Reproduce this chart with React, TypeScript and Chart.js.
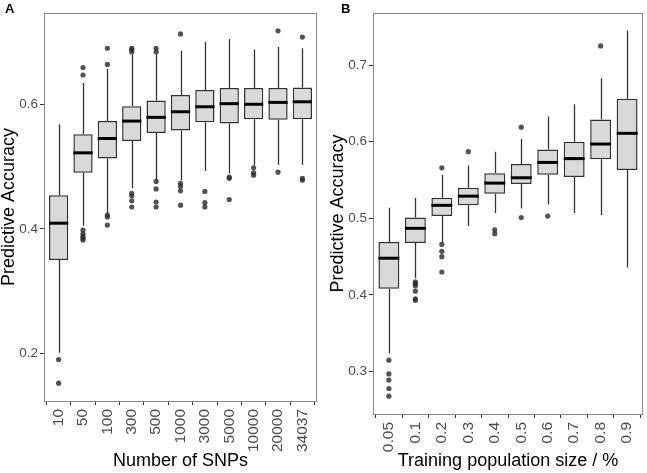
import React, { useEffect, useRef } from "react";
import { Chart, registerables } from "chart.js";
Chart.register(...registerables);

// ---------- Panel A: Number of SNPs ----------
const snpLabels = ["10", "50", "100", "300", "500", "1000", "3000", "5000", "10000", "20000", "34037"];
const snpQ1 = [0.35, 0.49, 0.513, 0.541, 0.554, 0.558, 0.571, 0.569, 0.576, 0.575, 0.576];
const snpMedian = [0.409, 0.522, 0.545, 0.573, 0.579, 0.588, 0.596, 0.601, 0.6, 0.603, 0.604];
const snpQ3 = [0.454, 0.552, 0.573, 0.597, 0.606, 0.615, 0.623, 0.626, 0.626, 0.626, 0.627];
const snpWhiskerLow = [0.201, 0.405, 0.425, 0.465, 0.478, 0.478, 0.493, 0.489, 0.502, 0.503, 0.503];
const snpWhiskerHigh = [0.568, 0.634, 0.657, 0.68, 0.68, 0.686, 0.7, 0.705, 0.688, 0.692, 0.69];
const snpOutlierCat = [
  0, 0,
  1, 1, 1, 1, 1, 1, 1,
  2, 2, 2, 2, 2,
  3, 3, 3, 3, 3, 3, 3,
  4, 4, 4, 4, 4, 4,
  5, 5, 5, 5, 5,
  6, 6, 6,
  7, 7, 7,
  8, 8, 8,
  9, 9,
  10, 10, 10,
];
const snpOutlierVal = [
  0.19, 0.152,
  0.659, 0.647, 0.398, 0.392, 0.388, 0.385, 0.382,
  0.69, 0.664, 0.422, 0.419, 0.406,
  0.684, 0.688, 0.69, 0.457, 0.453, 0.445, 0.435,
  0.684, 0.69, 0.476, 0.464, 0.443, 0.435,
  0.713, 0.473, 0.468, 0.461, 0.438,
  0.46, 0.442, 0.435,
  0.483, 0.481, 0.447,
  0.498, 0.49, 0.486,
  0.718, 0.491,
  0.708, 0.481, 0.478,
];
const snpYTicks = [0.2, 0.4, 0.6];

// ---------- Panel B: Training population size ----------
const popLabels = ["0.05", "0.1", "0.2", "0.3", "0.4", "0.5", "0.6", "0.7", "0.8", "0.9"];
const popQ1 = [0.408, 0.468, 0.503, 0.517, 0.532, 0.545, 0.557, 0.554, 0.577, 0.563];
const popMedian = [0.448, 0.487, 0.517, 0.529, 0.546, 0.553, 0.573, 0.578, 0.597, 0.611];
const popQ3 = [0.469, 0.501, 0.527, 0.54, 0.559, 0.571, 0.59, 0.6, 0.629, 0.656];
const popWhiskerLow = [0.324, 0.422, 0.468, 0.49, 0.507, 0.513, 0.518, 0.507, 0.504, 0.436];
const popWhiskerHigh = [0.514, 0.527, 0.557, 0.569, 0.587, 0.604, 0.633, 0.649, 0.683, 0.745];
const popOutlierCat = [
  0, 0, 0, 0, 0,
  1, 1, 1, 1, 1, 1,
  2, 2, 2, 2, 2,
  3,
  4, 4,
  5, 5,
  6,
  8,
];
const popOutlierVal = [
  0.315, 0.297, 0.289, 0.278, 0.268,
  0.417, 0.415, 0.412, 0.405, 0.395, 0.393,
  0.566, 0.466, 0.457, 0.45, 0.43,
  0.587,
  0.485, 0.48,
  0.619, 0.501,
  0.503,
  0.725,
];
const popYTicks = [0.3, 0.4, 0.5, 0.6, 0.7];

const FONT = "'Liberation Sans', Arial, Helvetica, sans-serif";

const boxExtras = {
  id: "boxExtras",
  beforeDatasetsDraw(chart: any) {
    const o = chart.options.plugins.boxExtras;
    if (!o) return;
    const { ctx } = chart;
    const xs = chart.scales.x;
    const ys = chart.scales.y;
    ctx.save();
    ctx.strokeStyle = "#333333";
    ctx.lineWidth = 1.3;
    for (let i = 0; i < o.low.length; i++) {
      const x = Math.round(xs.getPixelForValue(i)) + 0.5;
      ctx.beginPath();
      ctx.moveTo(x, ys.getPixelForValue(o.low[i]));
      ctx.lineTo(x, ys.getPixelForValue(o.q1[i]));
      ctx.moveTo(x, ys.getPixelForValue(o.q3[i]));
      ctx.lineTo(x, ys.getPixelForValue(o.high[i]));
      ctx.stroke();
    }
    ctx.restore();
  },
  afterDatasetsDraw(chart: any) {
    const o = chart.options.plugins.boxExtras;
    if (!o) return;
    const { ctx, chartArea } = chart;
    const ys = chart.scales.y;
    const meta = chart.getDatasetMeta(0);
    ctx.save();
    ctx.strokeStyle = "#000000";
    ctx.lineWidth = 3;
    for (let i = 0; i < o.median.length; i++) {
      const el = meta.data[i];
      const y = ys.getPixelForValue(o.median[i]);
      ctx.beginPath();
      ctx.moveTo(el.x - el.width / 2, y);
      ctx.lineTo(el.x + el.width / 2, y);
      ctx.stroke();
    }
    // panel border
    ctx.strokeStyle = "#8a8a8a";
    ctx.lineWidth = 1;
    ctx.strokeRect(
      Math.round(chartArea.left) + 0.5,
      Math.round(chartArea.top) + 0.5,
      Math.round(chartArea.right - chartArea.left) - 1,
      Math.round(chartArea.bottom - chartArea.top)
    );
    // panel letter
    ctx.fillStyle = "#000000";
    ctx.font = "bold 13px " + FONT;
    ctx.textAlign = "left";
    ctx.textBaseline = "alphabetic";
    ctx.fillText(o.letter, o.letterX, 13);
    ctx.restore();
  },
};

type PanelProps = {
  labels: string[];
  q1: number[];
  median: number[];
  q3: number[];
  low: number[];
  high: number[];
  outCat: number[];
  outVal: number[];
  yTicks: number[];
  yMin: number;
  yMax: number;
  xTitle: string;
  letter: string;
  letterX: number;
  width: number;
  padRight: number;
  yScaleWidth: number;
  xScaleHeight: number;
  yTitlePad: number;
};

function Panel(p: PanelProps) {
  const ref = useRef<HTMLCanvasElement>(null);
  useEffect(() => {
    if (!ref.current) return;
    const boxes = p.labels.map((_, i) => ({ x: i, y: [p.q1[i], p.q3[i]] }));
    const outliers = p.outCat.map((c, i) => ({ x: c, y: p.outVal[i] }));
    const chart = new Chart(ref.current, {
      type: "bar",
      data: {
        datasets: [
          {
            type: "bar",
            data: boxes as any,
            backgroundColor: "#d9d9d9",
            borderColor: "#333333",
            borderWidth: 1.5,
            borderSkipped: false,
            barPercentage: 0.79,
            categoryPercentage: 1,
          } as any,
          {
            type: "scatter",
            data: outliers as any,
            pointRadius: 2.6,
            pointBackgroundColor: "rgba(45,45,45,0.82)",
            pointBorderWidth: 0,
            showLine: false,
          } as any,
        ],
      },
      plugins: [boxExtras],
      options: {
        responsive: false,
        animation: false,
        events: [],
        layout: { padding: { left: 0, right: p.padRight, top: 13, bottom: 0 } },
        plugins: {
          legend: { display: false },
          tooltip: { enabled: false },
          boxExtras: {
            q1: p.q1,
            q3: p.q3,
            median: p.median,
            low: p.low,
            high: p.high,
            letter: p.letter,
            letterX: p.letterX,
          },
        } as any,
        scales: {
          x: {
            type: "linear",
            min: -0.6,
            max: p.labels.length - 1 + 0.6,
            offset: false,
            afterBuildTicks: (s: any) => {
              s.ticks = p.labels.map((_, i) => ({ value: i }));
            },
            afterFit: (s: any) => {
              s.height = p.xScaleHeight;
              s.paddingLeft = 0;
              s.paddingRight = 0;
            },
            ticks: {
              autoSkip: false,
              minRotation: 90,
              maxRotation: 90,
              padding: 4,
              color: "#4d4d4d",
              font: { family: FONT, size: 15.5 },
              callback: (v: any) => p.labels[v as number],
            },
            grid: { drawOnChartArea: false, drawTicks: true, tickLength: 4, color: "#333333" },
            border: { display: false },
            title: {
              display: true,
              text: p.xTitle,
              color: "#000000",
              font: { family: FONT, size: 18, lineHeight: 1 },
              padding: { top: 0, bottom: 3 },
            },
          },
          y: {
            type: "linear",
            min: p.yMin,
            max: p.yMax,
            afterBuildTicks: (s: any) => {
              s.ticks = p.yTicks.map((v) => ({ value: v }));
            },
            afterFit: (s: any) => {
              s.width = p.yScaleWidth;
              s.paddingTop = 0;
              s.paddingBottom = 0;
            },
            ticks: {
              padding: 2,
              color: "#4d4d4d",
              font: { family: FONT, size: 13.5 },
              callback: (v: any) => String(v),
            },
            grid: { drawOnChartArea: false, drawTicks: true, tickLength: 4, color: "#333333" },
            border: { display: false },
            title: {
              display: true,
              text: "Predictive Accuracy",
              color: "#000000",
              font: { family: FONT, size: 18, lineHeight: 1 },
              padding: { top: p.yTitlePad, bottom: 0 },
            },
          },
        },
      } as any,
    });
    return () => chart.destroy();
  }, []);
  return <canvas ref={ref} width={p.width} height={473} style={{ display: "block", width: p.width, height: 473 }} />;
}

export default function App() {
  return (
    <div style={{ position: "fixed", left: 0, top: 0, width: 647, height: 473, background: "#ffffff", display: "flex" }}>
      <Panel
        labels={snpLabels}
        q1={snpQ1}
        median={snpMedian}
        q3={snpQ3}
        low={snpWhiskerLow}
        high={snpWhiskerHigh}
        outCat={snpOutlierCat}
        outVal={snpOutlierVal}
        yTicks={snpYTicks}
        yMin={0.1234}
        yMax={0.7466}
        xTitle="Number of SNPs"
        letter="A"
        letterX={5}
        width={323}
        padRight={6}
        yScaleWidth={44}
        xScaleHeight={72}
        yTitlePad={0}
      />
      <Panel
        labels={popLabels}
        q1={popQ1}
        median={popMedian}
        q3={popQ3}
        low={popWhiskerLow}
        high={popWhiskerHigh}
        outCat={popOutlierCat}
        outVal={popOutlierVal}
        yTicks={popYTicks}
        yMin={0.2447}
        yMax={0.768}
        xTitle="Training population size / %"
        letter="B"
        letterX={18}
        width={324}
        padRight={1}
        yScaleWidth={50}
        xScaleHeight={59}
        yTitlePad={6}
      />
    </div>
  );
}
